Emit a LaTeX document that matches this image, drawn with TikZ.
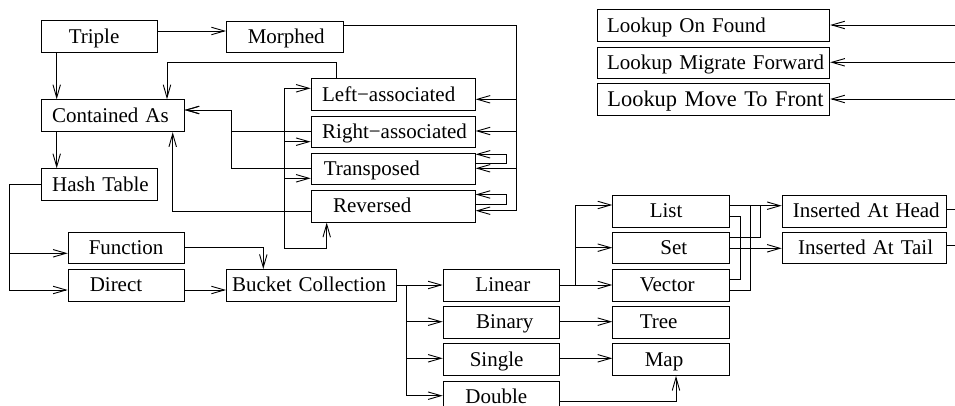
\documentclass[tikz,border=0pt]{standalone}
\usepackage{fontspec}
\setmainfont{Liberation Serif}
\usetikzlibrary{arrows.meta}
\begin{document}
\begin{tikzpicture}[x=1pt,y=-1pt,
  box/.style={draw, line width=0.9pt, anchor=north west, inner xsep=0pt, inner ysep=0pt,
    align=left, text height=16pt, text depth=3pt, font=\fontsize{21}{24}\selectfont},
  ln/.style={line width=0.9pt},
  arr/.style={ln, -{Straight Barb[length=13pt,width=7.5pt]}}]
\useasboundingbox (0,0) rectangle (955,406);
\clip (0,0) rectangle (955,406);
\newcommand\mkbox[7]{\node[box, text width=#4pt, minimum height=#5pt] (#1) at (#2,#3) {\hspace*{#6pt}#7};}
\mkbox{triple}{40.7}{20}{116.6}{32.3}{27.6}{Triple}
\mkbox{morphed}{226}{20.7}{116.7}{31.7}{21.3}{Morphed}
\mkbox{contained}{40.7}{99.3}{143}{32}{11}{Contained As}
\mkbox{hash}{40.7}{168.3}{116.6}{31.7}{11}{Hash Table}
\mkbox{function}{67.7}{231.7}{116}{31.6}{20.6}{Function}
\mkbox{direct}{67.7}{269}{116}{31.7}{21.6}{Direct}
\mkbox{bucket}{226}{269}{169.7}{31.7}{5.7}{Bucket Collection}
\mkbox{lefta}{310.7}{78.3}{164}{31.7}{11}{Left−associated}
\mkbox{righta}{310.7}{115.7}{164}{31.6}{11}{Right−associated}
\mkbox{transposed}{310.7}{152.7}{164}{31.6}{12.6}{Transposed}
\mkbox{reversed}{310.7}{190}{164}{31.7}{22}{Reversed}
\mkbox{linear}{442.7}{269.3}{116.6}{31.4}{32.3}{Linear}
\mkbox{binary}{442.7}{306}{116.6}{31.7}{33}{Binary}
\mkbox{single}{442.7}{343.3}{116.6}{31.7}{26.6}{Single}
\mkbox{double}{442.7}{380.7}{116.6}{31.7}{22.3}{Double}
\mkbox{list}{612.3}{195}{116.7}{31.7}{37}{List}
\mkbox{set}{612.3}{232.3}{116.7}{31}{47.7}{Set}
\mkbox{vector}{612.3}{269.3}{116.7}{31.4}{27}{Vector}
\mkbox{tree}{612.3}{306}{116.7}{31.7}{27}{Tree}
\mkbox{map}{612.3}{343.3}{116.7}{31.7}{32}{Map}
\mkbox{insh}{781.7}{195}{164.3}{31.7}{10.6}{Inserted At Head}
\mkbox{inst}{781.7}{232.3}{164.3}{31}{16}{Inserted At Tail}
\mkbox{lof}{596.7}{9.3}{232.6}{31.7}{10}{Lookup On Found}
\mkbox{lmf}{596.7}{46.7}{232.6}{31.6}{10}{Lookup Migrate Forward}
\node[box, text width=232.6pt, minimum height=31.7pt, font=\fontsize{22.4}{26}\selectfont] (lmtf) at (596.7,83.3) {\hspace*{10.3pt}Lookup Move To Front};
% Triple
\draw[arr] (triple.east |- 0,31) -- (morphed.west |- 0,31);
\draw[arr] (56.7,0 |- triple.south) -- (56.7,0 |- contained.north);
\draw[arr] (56.7,0 |- contained.south) -- (56.7,0 |- hash.north);
% Morphed -> right bus
\coordinate (rb) at (516.7,210.7);
\draw[ln] (morphed.east |- 0,25.7) -| (rb);
\draw[arr] (rb) -- (reversed.east |- rb);
\draw[arr] (rb |- 0,99.3) -- (lefta.east |- 0,99.3);
\draw[arr] (rb |- 0,131) -- (righta.east |- 0,131);
\draw[arr] (rb |- 0,168.3) -- (transposed.east |- 0,168.3);
% self loops
\draw[arr] (transposed.east |- 0,163.3) -- (506.7,163.3) -- (506.7,154.3) -- (transposed.east |- 0,154.3);
\draw[arr] (reversed.east |- 0,204.5) -- (506.7,204.5) -- (506.7,194.5) -- (reversed.east |- 0,194.5);
% into Contained As
\draw[arr] (336.7,0 |- lefta.north) |- (167,62.3) -- (167,0 |- contained.north);
\draw[arr] (righta.west |- 0,131.7) -| (231.7,110) -- (contained.east |- 0,110);
\draw[arr] (transposed.west |- 0,168.3) -| (231.7,110) -- (contained.east |- 0,110);
\draw[arr] (reversed.west |- 0,211) -| (172.7,0 |- contained.south);
% left bus
\coordinate (lb) at (284.3,248.3);
\draw[arr] (lb) -| (326.7,0 |- reversed.south);
\draw[arr] (lb) |- (lefta.west |- 0,88.3);
\draw[arr] (lb |- 0,141.7) -- (righta.west |- 0,141.7);
\draw[arr] (lb |- 0,178.3) -- (transposed.west |- 0,178.3);
% Hash Table
\coordinate (hb) at (9,290);
\draw[ln] (hash.west |- 0,184.3) -| (hb);
\draw[arr] (hb) -- (direct.west |- hb);
\draw[arr] (hb |- 0,253.3) -- (function.west |- 0,253.3);
\draw[arr] (function.east |- 0,247.7) -| (263.3,0 |- bucket.north);
\draw[arr] (direct.east |- 0,290) -- (bucket.west |- 0,290);
% Bucket bus
\coordinate (bb) at (406,395.7);
\draw[arr] (bucket.east |- 0,285) -- (linear.west |- 0,285);
\draw[ln] (bb |- 0,285) -- (bb);
\draw[arr] (bb |- 0,321.7) -- (binary.west |- 0,321.7);
\draw[arr] (bb |- 0,358.3) -- (single.west |- 0,358.3);
\draw[arr] (bb) -- (double.west |- bb);
% Linear bus
\coordinate (lnb) at (575.7,205);
\draw[arr] (linear.east |- 0,285) -- (vector.west |- 0,285);
\draw[ln] (lnb |- 0,285) -- (lnb);
\draw[arr] (lnb) -- (list.west |- lnb);
\draw[arr] (lnb |- 0,247.7) -- (set.west |- 0,247.7);
\draw[arr] (binary.east |- 0,321.7) -- (tree.west |- 0,321.7);
\draw[arr] (single.east |- 0,358.3) -- (map.west |- 0,358.3);
\draw[arr] (double.east |- 0,401.7) -| (676,0 |- map.south);
% List/Set/Vector -> Inserted
\draw[arr] (list.east |- 0,205.7) -- (insh.west |- 0,205.7);
\draw[ln] (set.east |- 0,237.3) -| (760.7,205.7);
\draw[ln] (vector.east |- 0,290) -| (750.7,205.7);
\draw[arr] (set.east |- 0,248.3) -- (inst.west |- 0,248.3);
\draw[ln] (list.east |- 0,216.7) -| (740,279.3) -- (vector.east |- 0,279.3);
% right stubs
\coordinate (eh) at (960,209);
\coordinate (et) at (960,245.7);
\draw[ln] (insh.east |- eh) -- (eh);
\draw[ln] (inst.east |- et) -- (et);
% Lookup arrows
\coordinate (e1) at (960,25);
\coordinate (e2) at (960,62.3);
\coordinate (e3) at (960,99);
\draw[arr] (e1) -- (lof.east |- e1);
\draw[arr] (e2) -- (lmf.east |- e2);
\draw[arr] (e3) -- (lmtf.east |- e3);
\end{tikzpicture}
\end{document}
